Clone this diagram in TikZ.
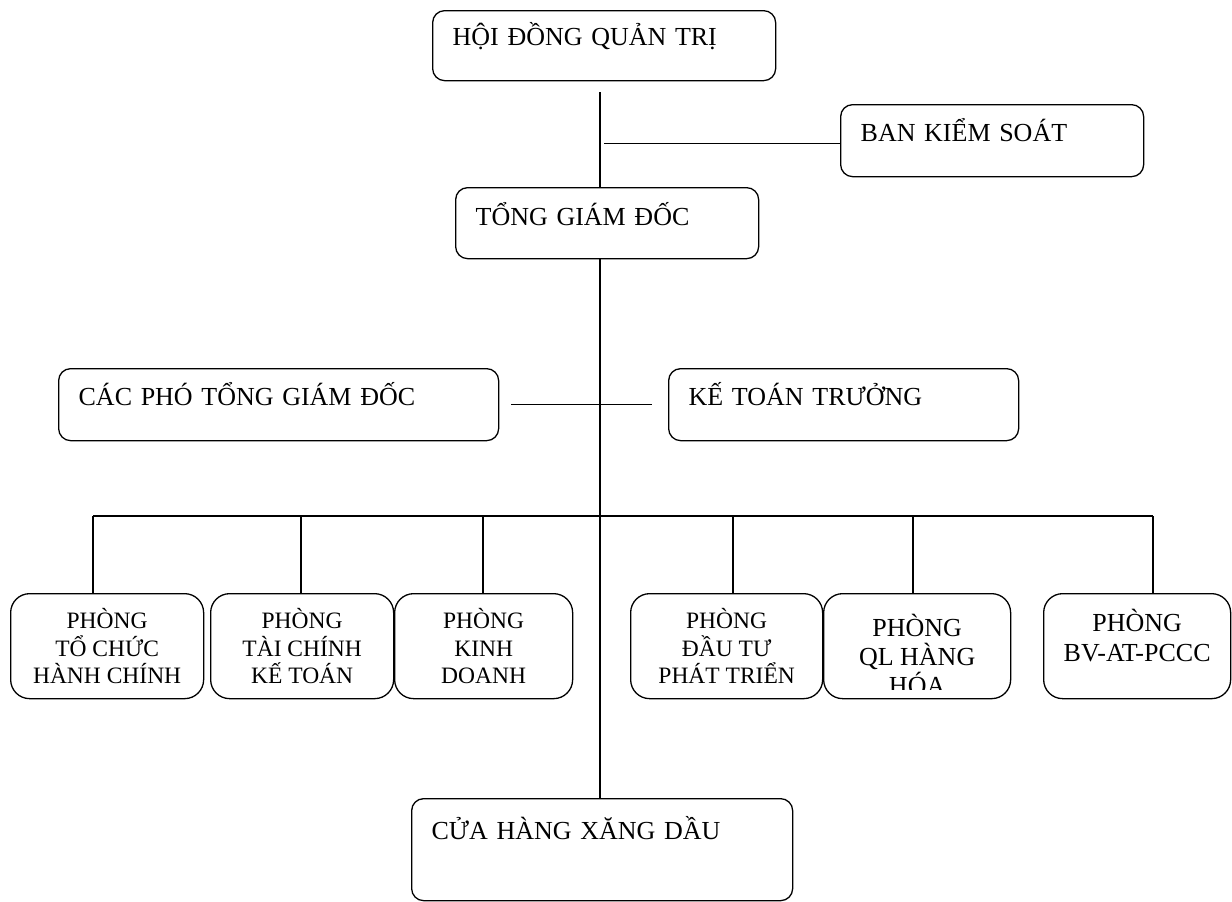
\documentclass[tikz,border=0pt]{standalone}
\usepackage{fontspec}
\setmainfont{Liberation Serif}
\newcommand\topfont{\fontsize{26}{30}\selectfont}
\newcommand\deptfont{\fontsize{23.5}{27.5}\selectfont}
\newcommand\deptbig{\fontsize{26}{29}\selectfont}
\newcommand\deptmid{\fontsize{26}{30}\selectfont}
\begin{document}
\begin{tikzpicture}[x=1pt,y=-1pt,line width=1.3pt,
  topbox/.style={draw, rounded corners=12pt, anchor=north west, inner xsep=20pt, inner ysep=0pt, align=left, font=\topfont},
  deptbox/.style={draw, rounded corners=19pt, anchor=north west, inner sep=0pt},
  conn/.style={draw, line width=1.3pt}]
\useasboundingbox (0,0) rectangle (1232,902);

% upper boxes
\node[topbox, text width=303pt, text height=35pt, text depth=35pt] (hdqt) at (432,10) {HỘI ĐỒNG QUẢN TRỊ};
\node[topbox, text width=263pt, text height=37pt, text depth=35pt] (bks) at (840,104) {BAN KIỂM SOÁT};
\node[topbox, text width=263pt, text height=38pt, text depth=33pt] (tgd) at (455,187) {TỔNG GIÁM ĐỐC};
\node[topbox, text width=400pt, text height=37pt, text depth=35pt] (cpt) at (58,368) {CÁC PHÓ TỔNG GIÁM ĐỐC};
\node[topbox, text width=310pt, text height=37pt, text depth=35pt] (ktt) at (668,368) {KẾ TOÁN TRƯỞNG};
\node[topbox, text width=341pt, text height=41pt, text depth=61pt] (chxd) at (411,798) {CỬA HÀNG XĂNG DẦU};

% departments
\node[deptbox] (p1) at (10,593) {\parbox[c][105pt][t]{193pt}{\centering\deptfont\rule{0pt}{35pt}PHÒNG\\TỔ CHỨC\\HÀNH CHÍNH}};
\node[deptbox] (p2) at (210,593) {\parbox[c][105pt][t]{183pt}{\centering\deptfont\rule{0pt}{35pt}PHÒNG\\TÀI CHÍNH\\KẾ TOÁN}};
\node[deptbox] (p3) at (394,593) {\parbox[c][105pt][t]{178pt}{\centering\deptfont\rule{0pt}{35pt}PHÒNG\\KINH\\DOANH}};
\node[deptbox] (p4) at (630,593) {\parbox[c][105pt][t]{192pt}{\centering\deptfont\rule{0pt}{35pt}PHÒNG\\ĐẦU TƯ\\PHÁT TRIỂN}};
\node[deptbox, minimum width=187pt, minimum height=105pt, path picture={
  \clip ([yshift=9pt]path picture bounding box.south west) rectangle (path picture bounding box.north east);
  \node[inner sep=0pt, anchor=north] (p5text) at (path picture bounding box.north) {\parbox[t]{187pt}{\centering\deptbig\rule{0pt}{38pt}PHÒNG\\QL HÀNG\\HÓA}};
}] (p5) at (823,593) {};
\node[deptbox] (p6) at (1043,593) {\parbox[c][105pt][t]{187pt}{\centering\deptmid\rule{0pt}{38pt}PHÒNG\\BV-AT-PCCC}};

% connectors
\coordinate (spine) at (600,92);
\draw[conn] (spine) -- (spine |- tgd.north);
\draw[conn] ([xshift=4pt,yshift=-3pt]spine |- bks.west) -- ([yshift=-3pt]bks.west);
\draw[conn] (spine |- tgd.south) -- (spine |- chxd.north);
\draw[conn] ([xshift=12pt]cpt.east) -- ([xshift=-16pt]ktt.west);

\coordinate (d1) at (93,516);
\coordinate (d2) at (301,516);
\coordinate (d3) at (483,516);
\coordinate (d4) at (733,516);
\coordinate (d5) at (913,516);
\coordinate (d6) at (1153,516);
\draw[conn] (d1) -- (d6);
\draw[conn] (d1) -- (d1 |- p1.north);
\draw[conn] (d2) -- (d2 |- p2.north);
\draw[conn] (d3) -- (d3 |- p3.north);
\draw[conn] (d4) -- (d4 |- p4.north);
\draw[conn] (d5) -- (d5 |- p5.north);
\draw[conn] (d6) -- (d6 |- p6.north);
\end{tikzpicture}
\end{document}
